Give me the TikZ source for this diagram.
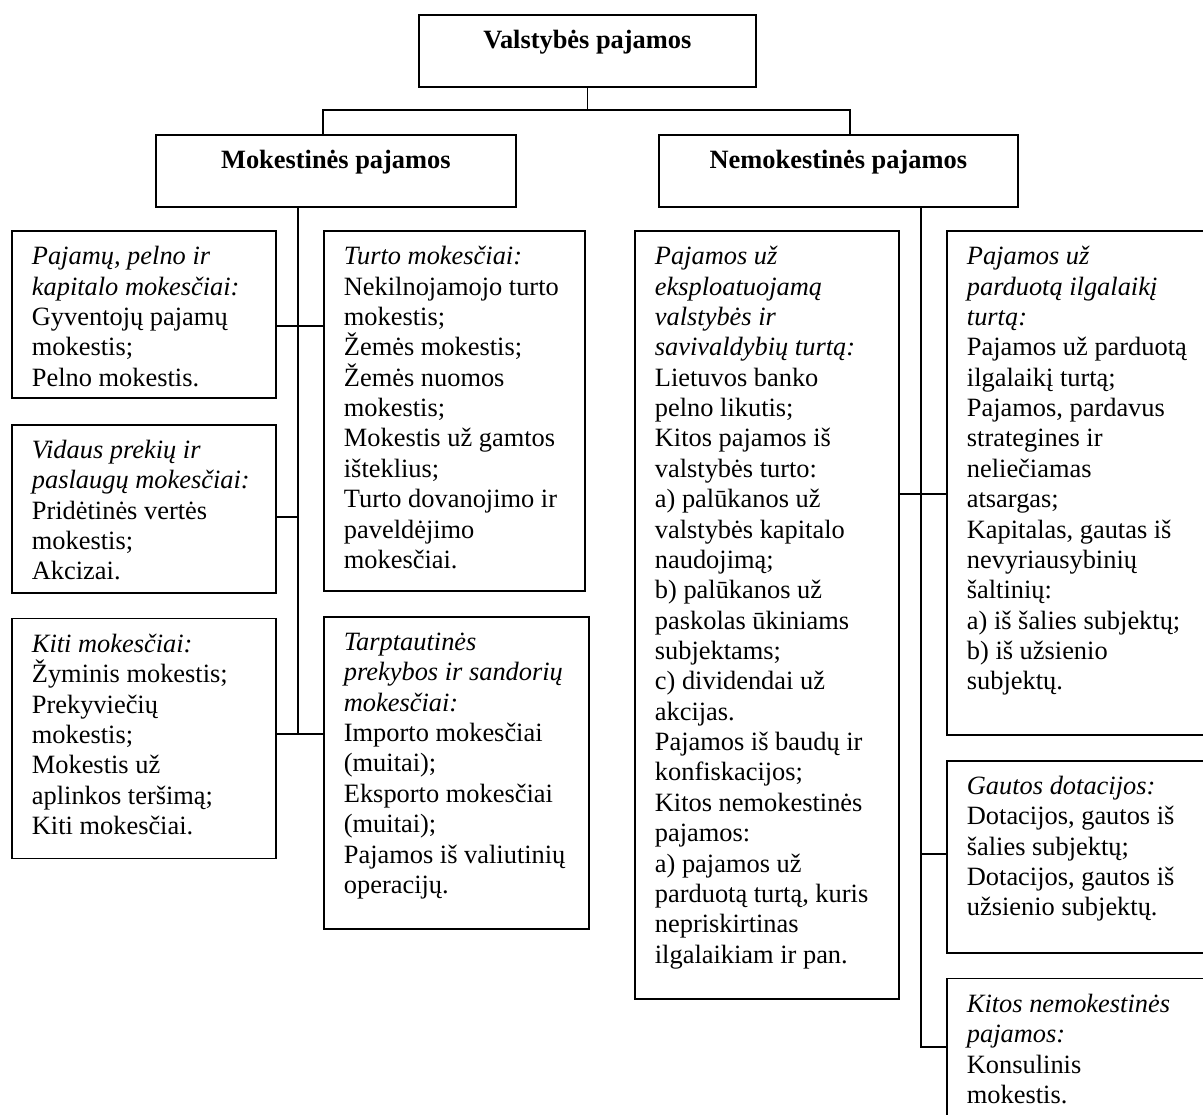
\documentclass[tikz,border=0pt]{standalone}
\usepackage{fontspec}
\setmainfont{Liberation Serif}
\usetikzlibrary{positioning}
\newdimen\pxu \pxu=0.4545pt
\tikzstyle{headbox} = [draw, line width=0.8pt, inner sep=0pt, anchor=north west]
\tikzstyle{catbox} = [headbox]
\tikzstyle{link} = [line width=0.8pt]
% box contents: width, height (in px), text
\newcommand{\headtext}[3]{\parbox[c][#2\pxu][t]{#1\pxu}{\centering\rule{0pt}{15.4pt}\textbf{#3}}}
\newcommand{\cattext}[3]{\parbox[c][#2\pxu][t]{#1\pxu}{\raggedright\leftskip=9.1pt\rule{0pt}{15.4pt}#3}}
\newcommand{\tie}[3]{ %
  % horizontal line at the height of #1, from #2 to #3
  \draw[link] (#2 |- #1) -- (#3 |- #1);
}
\begin{document}
\begin{tikzpicture}[x=\pxu, y=-\pxu, font=\fontsize{12}{13.8}\selectfont]
  \useasboundingbox (0,0) rectangle (1203,1115);
  \clip (0,0) rectangle (1203,1115);

  \node[headbox] (top) at (418,14) {\headtext{337}{72}{Valstybės pajamos}};
  \node[headbox] (mok) at (155,134) {\headtext{360}{72}{Mokestinės pajamos}};
  \node[headbox] (nem) at (658,134) {\headtext{359}{72}{Nemokestinės pajamos}};

  % mokestines
  \node[catbox] (pelno) at (11,230) {\cattext{264}{167}{%
    \textit{Pajamų, pelno ir}\\
    \textit{kapitalo mokesčiai:}\\
    Gyventojų pajamų\\
    mokestis;\\
    Pelno mokestis.}};
  \node[catbox, below=25\pxu of pelno.south west, anchor=north west] (vidaus) {\cattext{264}{168}{%
    \textit{Vidaus prekių ir}\\
    \textit{paslaugų mokesčiai:}\\
    Pridėtinės vertės\\
    mokestis;\\
    Akcizai.}};
  \node[catbox, below=24\pxu of vidaus.south west, anchor=north west] (kiti) {\cattext{264}{240}{%
    \textit{Kiti mokesčiai:}\\
    Žyminis mokestis;\\
    Prekyviečių\\
    mokestis;\\
    Mokestis už\\
    aplinkos teršimą;\\
    Kiti mokesčiai.}};
  \node[catbox] (turto) at (323,230) {\cattext{261}{360}{%
    \textit{Turto mokesčiai:}\\
    Nekilnojamojo turto\\
    mokestis;\\
    Žemės mokestis;\\
    Žemės nuomos\\
    mokestis;\\
    Mokestis už gamtos\\
    išteklius;\\
    Turto dovanojimo ir\\
    paveldėjimo\\
    mokesčiai.}};
  \node[catbox, below=24\pxu of turto.south west, anchor=north west] (tarpt) {\cattext{265}{312}{%
    \textit{Tarptautinės}\\
    \textit{prekybos ir sandorių}\\
    \textit{mokesčiai:}\\
    Importo mokesčiai\\
    (muitai);\\
    Eksporto mokesčiai\\
    (muitai);\\
    Pajamos iš valiutinių\\
    operacijų.}};

  % nemokestines
  \node[catbox] (eksp) at (634,230) {\cattext{264}{768}{%
    \textit{Pajamos už}\\
    \textit{eksploatuojamą}\\
    \textit{valstybės ir}\\
    \textit{savivaldybių turtą:}\\
    Lietuvos banko\\
    pelno likutis;\\
    Kitos pajamos iš\\
    valstybės turto:\\
    a) palūkanos už\\
    valstybės kapitalo\\
    naudojimą;\\
    b) palūkanos už\\
    paskolas ūkiniams\\
    subjektams;\\
    c) dividendai už\\
    akcijas.\\
    Pajamos iš baudų ir\\
    konfiskacijos;\\
    Kitos nemokestinės\\
    pajamos:\\
    a) pajamos už\\
    parduotą turtą, kuris\\
    nepriskirtinas\\
    ilgalaikiam ir pan.}};
  \node[catbox] (parduota) at (946,230) {\cattext{290}{504}{%
    \textit{Pajamos už}\\
    \textit{parduotą ilgalaikį}\\
    \textit{turtą:}\\
    Pajamos už parduotą\\
    ilgalaikį turtą;\\
    Pajamos, pardavus\\
    strategines ir\\
    neliečiamas\\
    atsargas;\\
    Kapitalas, gautas iš\\
    nevyriausybinių\\
    šaltinių:\\
    a) iš šalies subjektų;\\
    b) iš užsienio\\
    subjektų.}};
  \node[catbox, below=24\pxu of parduota.south west, anchor=north west] (gautos) {\cattext{290}{192}{%
    \textit{Gautos dotacijos:}\\
    Dotacijos, gautos iš\\
    šalies subjektų;\\
    Dotacijos, gautos iš\\
    užsienio subjektų.}};
  \node[catbox, below=24\pxu of gautos.south west, anchor=north west] (kitos) {\cattext{290}{200}{%
    \textit{Kitos nemokestinės}\\
    \textit{pajamos:}\\
    Konsulinis\\
    mokestis.}};

  % tree lines
  \coordinate (jl) at (323,110);
  \coordinate (jr) at (850,110);
  \draw[link] (top.south) -- (top.south |- jl);
  \draw[link] (jl |- mok.north) -- (jl) -- (jr) -- (jr |- nem.north);

  \coordinate (b1) at (298,326);
  \coordinate (b2) at (298,517);
  \coordinate (b3) at (298,734);
  \draw[link] (b1 |- mok.south) -- (b3);
  \tie{b1}{pelno.east}{turto.west}
  \tie{b2}{vidaus.east}{b2}
  \tie{b3}{kiti.east}{tarpt.west}

  \coordinate (r1) at (921,494);
  \coordinate (r2) at (921,854);
  \coordinate (r3) at (921,1047);
  \draw[link] (r1 |- nem.south) -- (r3) -- (kitos.west |- r3);
  \tie{r1}{eksp.east}{parduota.west}
  \tie{r2}{r2}{gautos.west}
\end{tikzpicture}
\end{document}
